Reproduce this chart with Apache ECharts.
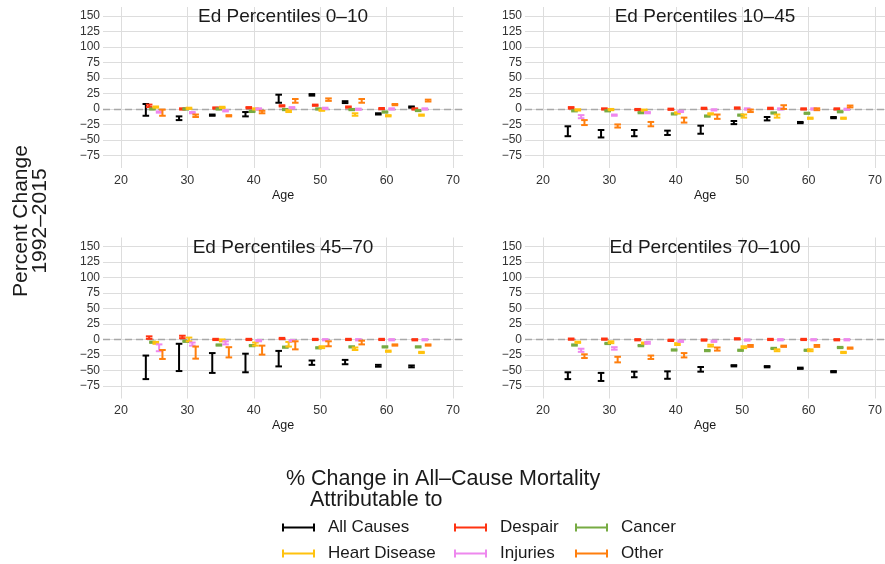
<!DOCTYPE html>
<html lang="en">
<head>
    <meta charset="UTF-8">
    <title>Percent Change 1992-2015</title>
    <script src="https://cdn.jsdelivr.net/npm/echarts@6/dist/echarts.min.js"></script>
    <style>
        html, body { margin: 0; padding: 0; background: #fff; }
    </style>
</head>
<body>
    <div id="main" style="width:885px;height:564px;"></div>
</body>
    <script>
        // age groups (centre of each dodged group) and ticks
        var ages = [25, 30, 35, 40, 45, 50, 55, 60, 65];
        var xTicks = [20, 30, 40, 50, 60, 70];
        var yTicks = [-75, -50, -25, 0, 25, 50, 75, 100, 125, 150];
        var causes = ['All Causes', 'Despair', 'Cancer', 'Heart Disease', 'Injuries', 'Other'];
        var panelTitles = ['Ed Percentiles 0\u201310', 'Ed Percentiles 10\u201345',
                           'Ed Percentiles 45\u201370', 'Ed Percentiles 70\u2013100'];

        // [low, high] per age group, one row per cause (same order as causes)
        var ed0_10 = [
            [[-11, 8], [-18, -12], [-11, -9], [-12, -5], [10, 23], [21.5, 24], [9.5, 12.5], [-9, -7], [2, 4]],
            [[3, 7], [-1, 1], [0.5, 2.5], [1, 3], [4, 6], [5, 7], [2, 4], [-0.5, 1.5], [-1, 1]],
            [[-1, 1], [-1, 1], [-1, 1], [-5, -3], [-2, 0], [-1, 1], [-2, 0], [-6, -4], [-3.5, -1.5]],
            [[2, 4], [0, 2], [1.5, 3.5], [-1, 1], [-5, -2], [-3, -1], [-11, -7], [-12, -10], [-11, -9]],
            [[-6, -4], [-7, -5], [-4, -2], [-1, 1], [1, 3], [0, 2], [-1.5, 0.5], [-1, 1], [-1, 1]],
            [[-11, -1], [-13, -9], [-12, -10], [-7, -3], [10, 16], [13, 17], [10, 16], [6, 8], [12, 15]]
        ];
        var ed10_45 = [
            [[-44, -28], [-46, -34], [-44, -34], [-42, -35], [-40, -27], [-24.5, -19.5], [-18.5, -13], [-23, -21], [-15, -13]],
            [[0.5, 3], [-1, 1], [-2, 0], [-1.5, 0.5], [0, 2], [0.5, 2.5], [0, 2], [-1, 1], [-1, 1]],
            [[-4, -2], [-4, -2], [-7, -5], [-9, -7], [-12.5, -10.5], [-11, -9], [-7.5, -5.5], [-8, -6], [-5.5, -3.5]],
            [[-2.5, -0.5], [-2, 0], [-3, -1], [-7.5, -5.5], [-9, -7], [-14, -9], [-14, -9], [-16, -14], [-16, -14]],
            [[-15, -10], [-11, -9], [-7, -5], [-5, -3], [-2.5, -0.5], [-1, 1], [-1, 1], [-1, 1], [-1.5, 0.5]],
            [[-26, -18], [-30, -25], [-28, -21], [-22, -14], [-16, -9], [-5, -1], [0, 6], [-2, 1], [2.5, 5.5]]
        ];
        var ed45_70 = [
            [[-64, -26], [-51, -7], [-54, -22], [-53, -23], [-43.5, -18.5], [-41, -34], [-40, -33], [-44, -41], [-45, -42]],
            [[1, 5], [2, 6], [-1, 1], [-1, 1], [0.5, 2.5], [-1, 1], [-1, 1], [-1, 1], [-1.5, 0.5]],
            [[-5.5, -3.5], [-4, -2], [-10, -8], [-11, -9], [-13.5, -11.5], [-14.5, -12.5], [-13, -11], [-13, -11], [-13, -11]],
            [[-7, -4], [-3, 3], [-3, 0], [-10, -5], [-11.5, -4], [-14, -11], [-17, -13], [-20, -18], [-22, -20]],
            [[-19, -8], [-10, -5], [-8, -3], [-3, -1], [-3, -1], [-1.5, 0.5], [-1.5, 0.5], [-1.5, 0.5], [-1.5, 0.5]],
            [[-31.5, -17], [-31, -11.5], [-29, -12.5], [-24.5, -10], [-16, -3], [-11, -3], [-8, -2], [-10, -8], [-10, -8]]
        ];
        var ed70_100 = [
            [[-64, -53], [-67, -54], [-61, -52], [-63.5, -51.5], [-52, -44.5], [-43.5, -41.5], [-45, -43], [-47.5, -45.5], [-53, -51]],
            [[-0.5, 1.5], [-0.5, 1.5], [-1.5, 0.5], [-2.5, -0.5], [-2, 0], [0, 2], [-1, 1], [-1, 1], [-1.5, 0.5]],
            [[-10, -8], [-7.5, -5.5], [-11, -9], [-18, -16], [-19, -17], [-18.5, -16.5], [-15.5, -13.5], [-18.5, -16.5], [-14, -12]],
            [[-5.5, -3.5], [-6, -3], [-7, -5], [-9, -6], [-11.5, -8.5], [-14, -11], [-19, -16], [-19, -16], [-22, -20]],
            [[-20, -15], [-16.5, -12.5], [-7, -4], [-4, -2], [-4, -2], [-2, 0], [-1.5, 0.5], [-1.5, 0.5], [-1.5, 0.5]],
            [[-30, -24], [-37, -28], [-31.5, -26], [-29, -22], [-18, -13], [-12, -9], [-12, -10], [-12, -9], [-15, -13]]
        ];
        var panels = [ed0_10, ed10_45, ed45_70, ed70_100];

        var colors = ['#000000', '#ff3311', '#77ab43', '#ffc20e', '#ee88ee', '#ff7f0e'];
        var dodge = [-1.25, -0.75, -0.25, 0.25, 0.75, 1.25];
        var gridPos = [[103, 7], [525, 7], [103, 237.5], [525, 237.5]];
        var FONT = '"Liberation Sans", Arial, sans-serif';

        var chart = echarts.init(document.getElementById('main'));

        function renderBar(params, api) {
            var x = api.value(0);
            var top = api.coord([x, api.value(2)]);
            var bot = api.coord([x, api.value(1)]);
            var w = 3.3;
            var style = { stroke: api.visual('color'), lineWidth: 2 };
            return {
                type: 'group',
                children: [
                    { type: 'line', shape: { x1: top[0], y1: top[1], x2: bot[0], y2: bot[1] }, style: style },
                    { type: 'line', shape: { x1: top[0] - w, y1: top[1], x2: top[0] + w, y2: top[1] }, style: style },
                    { type: 'line', shape: { x1: bot[0] - w, y1: bot[1], x2: bot[0] + w, y2: bot[1] }, style: style }
                ]
            };
        }

        var grids = [], xAxes = [], yAxes = [], series = [], graphics = [];
        panels.forEach(function (panel, p) {
            grids.push({ left: gridPos[p][0], top: gridPos[p][1], width: 360, height: 161 });
            xAxes.push({
                type: 'value', gridIndex: p, min: 17.3, max: 71.5,
                name: 'Age', nameLocation: 'middle', nameGap: 21,
                nameTextStyle: { fontSize: 12.5, color: '#1a1a1a', fontFamily: FONT },
                axisLine: { show: false },
                axisTick: { show: false, customValues: xTicks },
                axisLabel: { customValues: xTicks, fontSize: 12.5, color: '#333', margin: 6, fontFamily: FONT },
                splitLine: { show: true, lineStyle: { color: '#dddddd', width: 1 } }
            });
            yAxes.push({
                type: 'value', gridIndex: p, min: -95.3, max: 164.5,
                axisLine: { show: false },
                axisTick: { show: false, customValues: yTicks },
                axisLabel: {
                    customValues: yTicks, fontSize: 12, color: '#333', margin: 3, fontFamily: FONT,
                    formatter: function (v) { return String(v).replace('-', '\u2212'); }
                },
                splitLine: { show: true, lineStyle: { color: '#dddddd', width: 1 } }
            });
            panel.forEach(function (rows, s) {
                var s_ = {
                    name: causes[s], type: 'custom', xAxisIndex: p, yAxisIndex: p,
                    renderItem: renderBar,
                    itemStyle: { color: colors[s] },
                    encode: { x: 0, y: [1, 2] },
                    data: rows.map(function (r, i) { return [ages[i] + dodge[s], r[0], r[1]]; }),
                    z: 3
                };
                if (s === 0) {
                    s_.markLine = {
                        silent: true, symbol: ['none', 'none'], label: { show: false },
                        lineStyle: { color: '#a8a8a8', type: [7, 4], width: 1.3 },
                        data: [{ yAxis: 0 }], z: 1
                    };
                }
                series.push(s_);
            });
            graphics.push({
                type: 'text', z: 10,
                style: {
                    text: panelTitles[p], x: gridPos[p][0] + 180, y: gridPos[p][1] + 10,
                    textAlign: 'center', textVerticalAlign: 'middle',
                    font: '19px ' + FONT, fill: '#1a1a1a'
                }
            });
        });

        // y axis title
        graphics.push({
            type: 'text', x: 30.5, y: 221, rotation: Math.PI / 2,
            style: {
                text: 'Percent Change\n1992\u20132015', textAlign: 'center', textVerticalAlign: 'middle',
                font: '21px ' + FONT, fill: '#1a1a1a', lineHeight: 19.5
            }
        });
        // legend title
        graphics.push({
            type: 'text', x: 286, y: 469,
            style: {
                text: '% Change in All\u2013Cause Mortality\n    Attributable to',
                font: '21.5px ' + FONT, fill: '#1a1a1a', lineHeight: 21
            }
        });

        // one legend per key so the three columns line up like the reference
        var keyIcon = 'path://M0,0h2v8h-2z M2,3h29v2h-29z M31,0h2v8h-2z';
        var legendSpots = [[282, 519], [454, 519], [575, 519], [282, 545], [454, 545], [575, 545]];
        var legendOrder = ['All Causes', 'Despair', 'Cancer', 'Heart Disease', 'Injuries', 'Other'];
        var legends = legendOrder.map(function (name, i) {
            return {
                left: legendSpots[i][0], top: legendSpots[i][1], itemWidth: 33, itemHeight: 8,
                icon: keyIcon, data: [name], selectedMode: false, padding: 0,
                textStyle: { fontSize: 17, color: '#1a1a1a', fontFamily: FONT, padding: [0, 0, 0, 8] }
            };
        });

        chart.setOption({
            animation: false,
            backgroundColor: '#ffffff',
            grid: grids,
            xAxis: xAxes,
            yAxis: yAxes,
            legend: legends,
            graphic: graphics,
            series: series
        });
    </script>
</html>
